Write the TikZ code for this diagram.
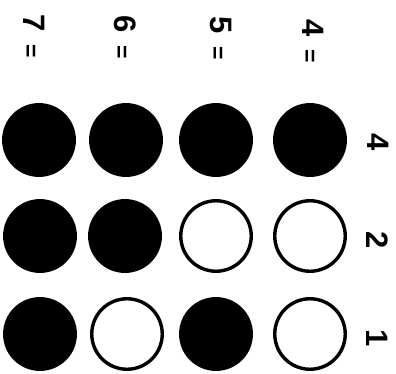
\documentclass[tikz,border=0pt]{standalone}
\usepackage{fontspec}
\setmainfont{Liberation Sans}
\usetikzlibrary{positioning}

\newcommand{\eqsign}{\hspace{13pt}{\fontsize{23}{23}\selectfont=}}

\begin{document}
\begin{tikzpicture}[
  x=1pt, y=-1pt,
  bit/.style={circle, draw=black, line width=3.4pt, minimum size=70.5pt, inner sep=0pt},
  on/.style={bit, fill=black},
  off/.style={bit, fill=white},
  lbl/.style={rotate=-90, inner sep=0pt, font=\bfseries\fontsize{31}{31}\selectfont}
]
\useasboundingbox (0,0) rectangle (396,373);
% weights 4 2 1 down the rows, numbers 7 6 5 4 across
\node[lbl] (n7) at (34,36) {7\eqsign};
\node[lbl] (n6) at (125,37) {6\eqsign};
\node[lbl] (n5) at (221,38) {5\eqsign};
\node[lbl] (n4) at (313,41) {4\eqsign};
\node[lbl] (w4) at (378,142) {4};
\node[lbl] (w2) at (377,240) {2};
\node[lbl] (w1) at (377,338) {1};
% row 4
\node[on] (a7) at (39,140) {};
\node[on] (a6) at (126,140) {};
\node[on] (a5) at (216,140) {};
\node[on] (a4) at (310,140) {};
% row 2
\node[on] (b7) at (40,236) {};
\node[on] (b6) at (125,236) {};
\node[off] (b5) at (216,236) {};
\node[off] (b4) at (310,236) {};
% row 1
\node[on] (c7) at (40,334) {};
\node[off] (c6) at (127,334) {};
\node[on] (c5) at (216,334) {};
\node[off] (c4) at (310,334) {};
\end{tikzpicture}
\end{document}
